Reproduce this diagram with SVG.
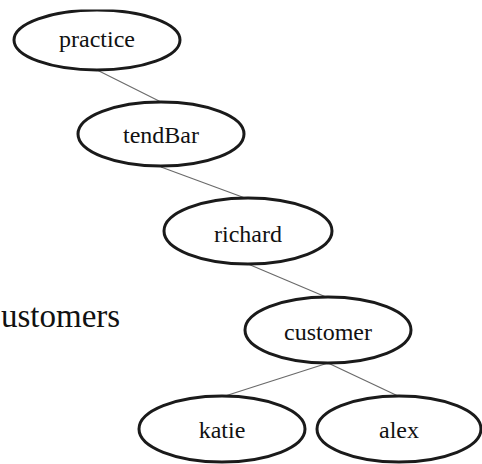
<svg xmlns="http://www.w3.org/2000/svg" width="482" height="464" viewBox="0 0 482 464">
  <defs>
    <style>
      .node ellipse { fill: #ffffff; stroke: #1a1a1a; stroke-width: 3; }
      .node text { font-family: "Liberation Serif", "Times New Roman", serif; font-size: 24px; fill: #111111; text-anchor: middle; }
      .edge { stroke: #6a6a6a; stroke-width: 1.2; fill: none; }
      .label { font-family: "Liberation Serif", "Times New Roman", serif; font-size: 33px; fill: #111111; }
    </style>
    <clipPath id="topclip">
      <rect x="0" y="9.5" width="482" height="460"/>
    </clipPath>
  </defs>
  <rect width="482" height="464" fill="#ffffff"/>
  <g id="connectors">
    <line class="edge" x1="97" y1="70" x2="161" y2="102"/>
    <line class="edge" x1="161" y1="167" x2="245" y2="198"/>
    <line class="edge" x1="248" y1="264" x2="326" y2="297"/>
    <line class="edge" x1="328" y1="363" x2="225" y2="396"/>
    <line class="edge" x1="328" y1="363" x2="398" y2="396"/>
  </g>
  <text class="label" x="1" y="327">ustomers</text>
  <g id="practice" class="node">
    <ellipse cx="97" cy="40" rx="83" ry="30" clip-path="url(#topclip)"/>
    <text x="97" y="47">practice</text>
  </g>
  <g id="tendBar" class="node">
    <ellipse cx="161" cy="134" rx="83" ry="32"/>
    <text x="161" y="143">tendBar</text>
  </g>
  <g id="richard" class="node">
    <ellipse cx="248" cy="231" rx="84" ry="33"/>
    <text x="248" y="242">richard</text>
  </g>
  <g id="customer" class="node">
    <ellipse cx="328" cy="330" rx="83" ry="33"/>
    <text x="328" y="340">customer</text>
  </g>
  <g id="katie" class="node">
    <ellipse cx="222" cy="429" rx="83" ry="33"/>
    <text x="222" y="438">katie</text>
  </g>
  <g id="alex" class="node">
    <ellipse cx="399" cy="429" rx="82" ry="33"/>
    <text x="399" y="438">alex</text>
  </g>
</svg>
